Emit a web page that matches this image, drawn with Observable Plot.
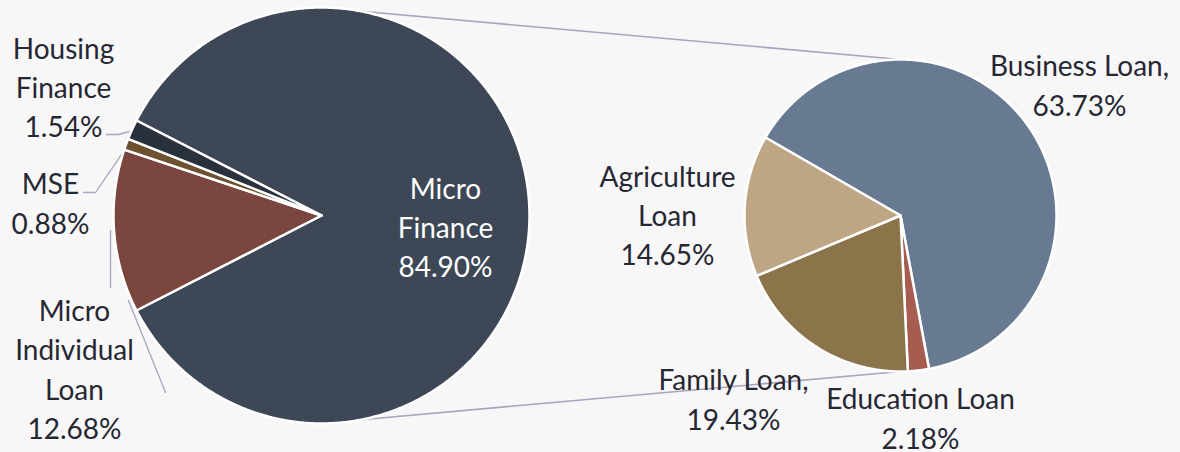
<!DOCTYPE html>
<html><head><meta charset="utf-8">
<script src="https://cdn.jsdelivr.net/npm/d3@7"></script>
<script src="https://cdn.jsdelivr.net/npm/@observablehq/plot@0.6"></script>
<style>html,body{margin:0;padding:0;background:#f7f7f7;overflow:hidden}#chart svg{background:transparent}</style>
</head><body><div id="chart"></div>
<script>
// ---- data ----
const mainCategories = ["Micro Finance", "Micro Individual Loan", "MSE", "Housing Finance"];
const mainValues = [84.90, 12.68, 0.88, 1.54];
const mainLabels = ["Micro\nFinance\n84.90%", "Micro\nIndividual\nLoan\n12.68%", "MSE\n0.88%", "Housing\nFinance\n1.54%"];
const subCategories = ["Business Loan", "Education Loan", "Family Loan", "Agriculture Loan"];
const subValues = [63.73, 2.18, 19.43, 14.65];
const subLabels = ["Business Loan,\n63.73%", "Education Loan\n2.18%", "Family Loan,\n19.43%", "Agriculture\nLoan\n14.65%"];

// ---- layout / style ----
const W = 1180, H = 452;
const mainPie = {cx: 321, cy: 215, r: 208};
const subPie = {cx: 900, cy: 215, r: 156};
const colors = {
  "Micro Finance": "#3d4755", "Micro Individual Loan": "#7a463d", "MSE": "#6d5232", "Housing Finance": "#29313c",
  "Business Loan": "#687a91", "Education Loan": "#a65d50", "Family Loan": "#8b734a", "Agriculture Loan": "#bea584"
};
const labelPos = {
  "Micro Finance": [445, 225], "Micro Individual Loan": [74, 367], "MSE": [50, 201], "Housing Finance": [63, 85],
  "Business Loan": [1079, 83], "Education Loan": [920, 416], "Family Loan": [733, 397], "Agriculture Loan": [667, 213]
};
// leader lines: label-side bend points (px); the last point is the slice edge at its mid angle
const leaderBends = [
  {name: "Housing Finance", pts: [[106, 134], [118, 134]]},
  {name: "MSE", pts: [[83, 192], [95, 192]]}
];
const extraLeaders = [
  [[110, 230], [110, 287]],
  [[128, 300], [165, 392]]
];
const textColor = "#272733";
const connectorColor = "#a9a4bf";

// ---- geometry via d3.pie ----
const deg = Math.PI / 180;
function pieArcs(cats, vals, startAngle) {
  return d3.pie().sort(null).value(d => d.v).startAngle(startAngle).endAngle(startAngle + 2 * Math.PI)(
    cats.map((c, i) => ({c, v: vals[i]})));
}
function slicePoints(arcs, pie) {
  const pts = [];
  arcs.forEach(a => {
    const name = a.data.c;
    pts.push({name, x: pie.cx, y: pie.cy});
    const n = Math.max(4, Math.ceil((a.endAngle - a.startAngle) / (0.5 * deg)));
    for (let k = 0; k <= n; k++) {
      const t = a.startAngle + (a.endAngle - a.startAngle) * k / n;
      pts.push({name, x: pie.cx + pie.r * Math.sin(t), y: pie.cy - pie.r * Math.cos(t)});
    }
    pts.push({name, x: pie.cx, y: pie.cy});
  });
  return pts;
}
const onPie = (p, a, k = 1) => ({x: p.cx + p.r * k * Math.sin(a), y: p.cy - p.r * k * Math.cos(a)});

const mainShare = mainValues[0] / d3.sum(mainValues);
const mainStart = Math.PI / 2 - mainShare * Math.PI; // big slice centred on the right
const subStart = -60 * deg;
const mainArcs = pieArcs(mainCategories, mainValues, mainStart);
const subArcs = pieArcs(subCategories, subValues, subStart);
const mainPts = slicePoints(mainArcs, mainPie);
const subPts = slicePoints(subArcs, subPie);

const linkAngle = 11 * deg;
const links = [
  {a: onPie(mainPie, linkAngle), b: onPie(subPie, 0)},
  {a: onPie(mainPie, Math.PI - linkAngle), b: onPie(subPie, Math.PI)}
];

const leaderPts = [];
leaderBends.forEach((l, i) => {
  const arc = mainArcs.find(a => a.data.c === l.name);
  const mid = (arc.startAngle + arc.endAngle) / 2;
  l.pts.forEach(p => leaderPts.push({id: "L" + i, x: p[0], y: p[1]}));
  const e = onPie(mainPie, mid, 0.99);
  leaderPts.push({id: "L" + i, x: e.x, y: e.y});
});
extraLeaders.forEach((seg, i) => seg.forEach(p => leaderPts.push({id: "E" + i, x: p[0], y: p[1]})));

const labels = [
  ...mainCategories.map((c, i) => ({name: c, text: mainLabels[i]})),
  ...subCategories.map((c, i) => ({name: c, text: subLabels[i]}))
].map(d => ({...d, x: labelPos[d.name][0], y: labelPos[d.name][1], fill: d.name === "Micro Finance" ? "#ffffff" : textColor}));

const allNames = [...mainCategories, ...subCategories];
const chart = Plot.plot({
  width: W, height: H, margin: 0,
  x: {domain: [0, W], range: [0, W], axis: null},
  y: {domain: [0, H], range: [0, H], axis: null},
  color: {domain: allNames, range: allNames.map(n => colors[n])},
  style: {background: "transparent", fontFamily: "Lato, 'Open Sans', sans-serif"},
  marks: [
    Plot.link(links, {x1: d => d.a.x, y1: d => d.a.y, x2: d => d.b.x, y2: d => d.b.y, stroke: connectorColor, strokeWidth: 1.6}),
    Plot.line(leaderPts, {x: "x", y: "y", z: "id", stroke: connectorColor, strokeWidth: 1.3, curve: "linear"}),
    Plot.line(mainPts, {x: "x", y: "y", z: "name", fill: "name", stroke: "#ffffff", strokeWidth: 2.5, strokeLinejoin: "round", curve: "linear"}),
    Plot.line(subPts, {x: "x", y: "y", z: "name", fill: "name", stroke: "#ffffff", strokeWidth: 2.5, strokeLinejoin: "round", curve: "linear"}),
    Plot.text(labels, {x: "x", y: "y", text: "text", fill: d => d.fill, fontSize: 28, lineHeight: 1.4, lineAnchor: "middle", textAnchor: "middle", fontFamily: "Lato"})
  ]
});
document.getElementById("chart").appendChild(chart);
</script>
</body></html>
